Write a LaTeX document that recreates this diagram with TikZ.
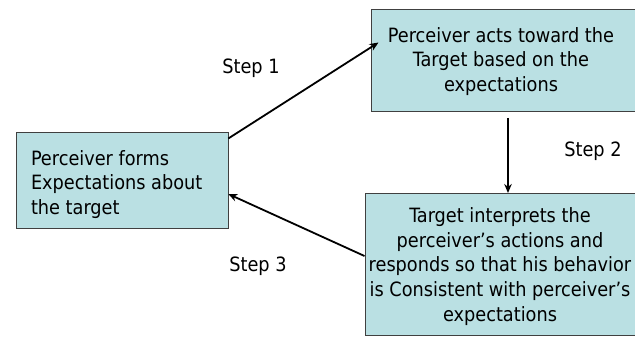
\documentclass[tikz,border=0pt]{standalone}
\usepackage{fontspec}
\setmainfont{DejaVu Sans Condensed}
\usetikzlibrary{arrows.meta,calc}
\definecolor{boxfill}{RGB}{186,224,227}
\definecolor{boxline}{RGB}{64,64,64}
\tikzset{
  box/.style={draw=boxline, line width=0.8pt, fill=boxfill, rectangle, inner sep=0pt},
  txt/.style={inner sep=0pt, font=\fontsize{19.7}{24.6}\selectfont, align=center},
  steplabel/.style={inner sep=0pt, font=\fontsize{19.7}{24.6}\selectfont},
  arr/.style={line width=1.8pt, -{Stealth[length=9pt,width=7.5pt]}}
}
\begin{document}
\begin{tikzpicture}[x=1pt,y=-1pt]
\useasboundingbox (0,0) rectangle (635,337);
\clip (0,0) rectangle (635,337);

% boxes
\node[box, anchor=north west, minimum width=212pt, minimum height=96pt] (formbox) at (15.5,132) {};
\node[box, anchor=north west, minimum width=300pt, minimum height=102pt] (actbox) at (371,9) {};
\node[box, anchor=north west, minimum width=300pt, minimum height=142pt] (respbox) at (364.5,193) {};

% box texts
\node[txt, align=left, anchor=west] (form) at (30.8,184.5) {Perceiver forms\\Expectations about\\the target};
\node[txt] (act) at (501,61.5) {Perceiver acts toward the\\Target based on the\\expectations};
\node[txt] (resp) at (500,266.5) {Target interprets the\\perceiver’s actions and\\responds so that his behavior\\is Consistent with perceiver’s\\expectations};

% step labels
\node[steplabel] (s1) at (251,68) {Step 1};
\node[steplabel] (s2) at (593,151) {Step 2};
\node[steplabel] (s3) at (258,266) {Step 3};

% connectors
\coordinate (a1) at ($(formbox.north east)+(0,6.5)$);
\coordinate (b1) at ($(actbox.north west)+(7.5,33.5)$);
\draw[arr] (a1) -- (b1);
\coordinate (a2) at ($(actbox.south west)+(137,6)$);
\draw[arr, line width=2pt] (a2) -- (a2 |- respbox.north);
\coordinate (a3) at ($(respbox.north west)+(0,63)$);
\coordinate (b3) at ($(formbox.north east)+(0,62)$);
\draw[arr] (a3) -- (b3);
\end{tikzpicture}
\end{document}
